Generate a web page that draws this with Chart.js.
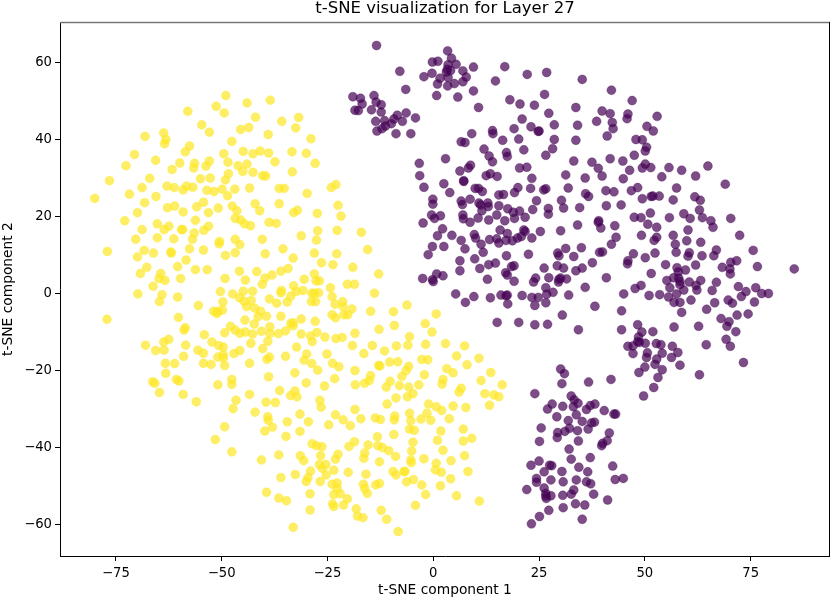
<!DOCTYPE html>
<html>
<head>
<meta charset="utf-8">
<title>t-SNE visualization for Layer 27</title>
<script src="https://cdn.jsdelivr.net/npm/chart.js@4"></script>
<style>
  html, body { margin: 0; padding: 0; background: #fff; }
  canvas { display: block; }
</style>
</head>
<body>
<canvas id="chart" width="830" height="600"></canvas>
<script>
// ================= DATA =================
const xTickValues = [-75, -50, -25, 0, 25, 50, 75];
const yTickValues = [-60, -40, -20, 0, 20, 40, 60];

// class 1 (yellow), [component 1, component 2]
const yellowPoints = [
[-49.0,51.5],[-51.3,48.7],[-49.4,47.0],[-44.0,49.6],[-58.0,47.4],[-54.7,43.9],[-52.9,42.0],[-45.5,42.7],[-43.6,43.2],[-68.1,40.9],
[-63.7,41.8],[-63.2,40.1],[-63.5,39.0],[-47.6,39.6],[-57.6,38.4],[-58.6,36.9],[-70.6,36.2],[-65.6,34.7],[-72.6,33.3],[-59.9,34.0],
[-56.4,33.9],[-56.6,32.7],[-52.9,34.5],[-53.7,33.2],[-61.7,32.3],[-49.5,36.4],[-44.9,37.0],[-48.5,34.2],[-46.1,33.3],[-44.0,33.7],
[-45.0,31.8],[-48.4,31.2],[-49.1,29.6],[-55.0,29.9],[-52.7,30.1],[-67.0,30.0],[-76.5,29.4],[-80.0,24.8],[-71.8,25.9],[-68.8,27.6],
[-65.5,25.3],[-62.9,28.0],[-61.2,27.6],[-59.1,27.0],[-58.3,28.0],[-56.8,27.7],[-53.5,26.9],[-51.8,26.6],[-49.9,27.2],[-46.9,27.2],
[-48.6,25.5],[-43.4,27.5],[-68.2,23.7],[-69.9,21.1],[-72.9,19.0],[-62.8,22.4],[-61.1,22.8],[-59.1,21.3],[-55.9,22.6],[-54.3,23.8],
[-50.8,22.3],[-53.1,21.1],[-47.5,22.8],[-46.4,21.6],[-46.8,19.6],[-45.5,19.2],[-44.6,18.2],[-43.2,17.7],[-56.2,19.1],[-65.2,18.2],
[-62.5,17.6],[-63.6,16.7],[-68.8,16.7],[-59.5,16.7],[-59.2,16.7],[-53.1,17.6],[-54.2,16.5],[-56.5,15.8],[-70.3,14.2],[-65.2,14.6],
[-61.3,14.3],[-56.9,14.2],[-50.5,13.6],[-46.8,14.2],
[-38.5,50.3],[-42.0,45.9],[-35.8,44.8],[-31.8,45.8],[-32.5,43.1],[-39.0,41.4],[-28.9,40.3],[-42.6,36.4],[-40.9,37.1],[-38.9,36.6],
[-33.4,36.9],[-30.0,36.5],[-27.9,33.9],[-37.4,34.3],[-42.6,31.6],[-40.3,30.7],[-39.6,30.6],[-33.3,31.7],[-36.4,27.4],[-35.2,27.4],
[-29.8,26.1],[-24.1,27.6],[-23.0,28.4],[-42.1,23.4],[-41.0,21.6],[-36.4,23.4],[-32.1,21.7],[-33.0,21.1],[-27.4,20.9],[-22.5,23.0],
[-21.8,20.2],[-38.8,18.6],[-37.1,18.3],[-27.3,16.4],[-22.7,16.5],[-17.0,16.0],[-31.2,15.1],[-40.4,14.2],[-27.6,14.0],
[-77.0,11.0],[-68.3,11.3],[-69.9,9.6],[-66.1,10.6],[-62.0,10.9],[-61.9,10.6],[-57.6,11.7],[-54.3,11.4],[-50.6,13.0],[-49.1,10.0],
[-46.8,10.7],[-45.7,12.8],[-39.7,10.4],[-35.5,11.7],[-67.7,6.9],[-69.2,5.3],[-60.4,7.1],[-58.4,8.8],[-56.2,6.3],[-53.4,6.3],
[-45.8,5.9],[-41.7,5.8],[-38.1,4.9],[-39.8,4.1],[-36.0,5.9],[-34.3,6.6],[-64.4,5.3],[-64.8,4.0],[-63.4,3.5],[-59.7,4.0],
[-49.2,4.0],[-44.4,3.6],[-40.4,2.5],[-66.2,2.0],[-69.8,0.0],[-64.1,-0.2],[-64.7,-2.0],[-60.4,-0.8],[-50.3,0.6],[-47.4,0.0],
[-44.9,0.7],[-42.7,0.7],[-35.9,0.9],[-36.0,0.3],[-45.8,-1.0],[-44.7,-1.9],[-43.0,-1.7],[-49.7,-2.1],[-38.7,-1.3],[-37.0,-2.4],
[-34.5,-2.1],[-33.7,-0.6],[-55.5,-3.0],[-51.9,-4.5],[-50.9,-4.5],[-51.1,-5.1],[-49.8,-4.2],[-44.1,-3.3],[-42.2,-3.7],[-40.8,-4.5],
[-41.4,-5.9],[-39.4,-5.8],[-36.0,-5.8],[-44.5,-6.8],[-42.3,-7.8],[-60.2,-6.1],[-77.1,-6.6],[-58.6,-8.8],[-58.9,-9.4],[-47.9,-8.4],
[-46.8,-9.4],[-49.3,-10.1],[-45.7,-10.2],[-44.4,-9.9],[-42.7,-10.4],[-40.6,-9.7],[-38.6,-8.5],[-38.6,-10.3],[-36.6,-10.3],[-34.9,-9.6],
[-33.7,-7.7],[-54.1,-10.6],[-62.5,-11.8],[-63.7,-12.5],[-68.0,-13.3],[-65.6,-14.7],[-63.6,-14.6],[-58.5,-13.3],[-52.3,-12.5],[-50.7,-13.4],
[-49.6,-13.8],[-55.6,-14.6],[-54.3,-15.4],[-43.1,-12.8],[-39.1,-12.3],[-40.3,-14.2],[-45.7,-14.7],[-47.1,-15.5],[-59.0,-16.2],[-50.9,-16.4],
[-49.6,-15.8],[-49.6,-16.6],[-63.3,-18.0],[-61.1,-18.1],[-54.3,-18.0],[-52.5,-18.3],[-49.3,-18.6],[-43.4,-18.0],[-38.7,-16.4],[-39.3,-17.0],
[-34.9,-16.2],[-63.2,-20.6],[-66.3,-22.8],[-65.8,-23.2],[-60.7,-22.2],[-60.1,-22.6],[-50.9,-23.6],[-47.6,-22.2],[-47.6,-23.5],[-38.9,-21.5],
[-64.7,-25.6],[-59.1,-26.1],[-43.4,-26.1],[-36.3,-25.1],[-33.7,-26.4],[-56.0,-28.0],[-46.6,-27.6],[-39.5,-28.1],[-37.3,-28.2],
[-15.5,11.5],[-28.1,10.6],[-22.8,10.4],[-33.1,9.3],[-26.4,8.1],[-23.7,7.6],[-19.0,6.9],[-28.1,5.2],[-12.9,5.2],[-30.5,3.8],
[-27.7,3.4],[-26.9,3.4],[-20.3,2.5],[-18.6,2.5],[-24.3,1.6],[-33.0,2.1],[-32.4,0.6],[-30.8,0.9],[-28.7,0.2],[-28.1,0.2],
[-27.1,0.3],[-13.9,0.2],[-23.9,-0.7],[-28.8,-2.0],[-27.8,-2.0],[-23.2,-2.7],[-21.4,-2.0],[-21.3,-3.3],[-19.2,-3.9],[-21.1,-5.4],
[-20.2,-5.4],[-23.9,-5.4],[-23.1,-6.2],[-14.8,-4.5],[-9.4,-4.6],[-6.2,-2.9],[0.7,-5.2],[-31.2,-6.5],[-33.1,-7.5],[-33.1,-8.3],
[-27.9,-7.1],[-1.9,-7.7],[-9.2,-8.2],[-12.8,-9.2],[-18.5,-10.2],[-0.3,-9.9],[-31.2,-10.4],[-27.5,-10.0],[-29.0,-10.9],[-28.6,-12.4],
[-25.6,-11.2],[-23.0,-11.6],[-21.5,-11.3],[-5.6,-11.1],[-6.0,-13.3],[-1.8,-13.1],[2.9,-12.9],[7.4,-13.5],[-32.3,-13.8],[-19.1,-13.4],
[-14.4,-13.4],[-8.7,-13.5],[-11.5,-14.8],[-16.4,-15.5],[-25.1,-15.6],[-29.9,-15.6],[-30.5,-17.2],[5.5,-16.1],[10.8,-16.7],[-28.7,-18.1],
[-23.8,-18.0],[-22.3,-18.9],[-12.9,-18.6],[-12.6,-18.7],[-10.3,-17.7],[-8.4,-17.6],[-5.8,-18.8],[-6.4,-19.9],[-2.7,-17.0],[-1.3,-17.1],
[3.2,-19.4],[8.0,-18.4],[4.7,-20.5],[13.6,-20.4],[-27.3,-19.8],[-32.7,-20.5],[-18.5,-19.9],[-2.1,-21.0],[-14.8,-21.2],[-7.4,-21.4],
[-23.3,-22.0],[11.3,-22.5],[2.3,-22.2],[2.1,-23.4],[-10.2,-22.7],[-15.1,-22.5],[-16.2,-23.2],[-18.4,-23.6],[-30.0,-23.1],[-25.7,-23.9],
[-8.0,-23.8],[-11.1,-24.2],[-5.8,-24.2],[-3.4,-23.6],[16.3,-23.6],[6.6,-24.5],[6.1,-25.5],[-32.7,-25.2],[-4.8,-25.9],[-6.1,-26.7],
[-8.8,-27.0],[-32.2,-26.7],[12.2,-25.9],[14.3,-26.2],[15.5,-26.7],[-26.8,-27.6],
[-26.5,-29.4],[-47.3,-29.8],[-42.1,-30.7],[-39.1,-31.9],[-39.0,-32.8],[-31.5,-31.2],[-34.5,-33.2],[-29.5,-33.2],[-38.0,-34.6],[-39.8,-35.6],
[-49.3,-34.5],[-51.5,-37.8],[-47.6,-41.0],[-34.8,-37.0],[-31.5,-35.7],[-24.7,-34.0],[-23.1,-31.4],[-21.3,-32.7],[-19.6,-34.2],[-18.5,-30.0],
[-17.1,-32.4],[-13.7,-32.2],[-12.5,-32.6],[-10.9,-28.6],[-9.1,-31.7],[-9.2,-32.7],[-5.6,-31.0],[-5.3,-32.9],[-1.5,-31.0],[-1.1,-28.6],
[0.7,-29.3],[2.0,-30.3],[4.7,-29.1],[7.7,-29.5],[13.3,-28.9],[-2.9,-32.5],[-0.6,-32.8],[3.8,-32.4],[-5.6,-35.1],[-4.5,-35.4],
[1.8,-35.6],[7.1,-35.1],[-9.3,-36.5],[-13.2,-37.1],[1.0,-38.0],[7.1,-38.2],[9.1,-37.5],[-4.8,-38.5],[-28.6,-38.9],[-27.6,-39.4],
[-26.3,-39.7],[-19.9,-39.6],[-18.6,-38.4],[-15.4,-39.2],[-13.1,-39.4],[-12.0,-39.9],[-10.5,-40.7],[-5.1,-40.8],[2.3,-40.6],[-16.2,-41.3],
[-16.4,-42.7],[-22.5,-41.6],[-23.1,-42.9],[-26.6,-42.0],[-31.4,-42.0],[-30.6,-43.3],[-36.5,-41.8],[-40.6,-43.1],[-8.9,-42.2],[-2.2,-42.8],
[7.4,-42.0],[4.2,-43.3],[-5.3,-43.1],[-5.2,-43.8],[-12.7,-43.6],[0.7,-44.0],[-25.4,-44.3],[-26.9,-44.3],[-26.2,-45.3],[-23.5,-45.8],
[-25.3,-47.0],[-29.0,-46.0],[-20.1,-46.3],[-29.6,-47.7],[-30.0,-48.7],[-32.6,-46.9],[-36.0,-47.7],[-26.7,-48.7],[-23.9,-49.4],[-22.7,-49.1],
[-15.9,-46.8],[-9.5,-46.1],[-8.8,-47.0],[-6.9,-46.1],[-6.7,-46.1],[0.5,-45.7],[1.9,-46.3],[8.2,-46.1],[4.1,-48.0],[-4.7,-48.2],
[-6.3,-48.8],[-2.7,-49.6],[1.7,-49.8],[-16.5,-49.4],[-12.7,-49.2],[-13.6,-49.6],[-22.7,-50.5],[-16.2,-50.5],[-15.6,-51.8],[-39.4,-51.5],
[-29.1,-51.9],[-23.5,-52.1],[-22.0,-51.9],[-1.8,-52.1],[5.5,-52.4],[10.9,-53.8],[-36.5,-53.0],[-34.7,-53.7],[-20.3,-53.2],[-23.8,-54.5],
[-23.5,-55.2],[-21.2,-54.8],[-4.2,-54.9],[-29.1,-56.1],[-18.2,-55.8],[-12.3,-56.2],[-17.9,-57.7],[-16.6,-58.1],[-11.0,-58.5],[-33.1,-60.6],
[-8.3,-61.7]
];

// class 0 (purple), [component 1, component 2]
const purplePoints = [
[-13.4,64.5],[3.4,63.1],[-0.2,60.2],[1.1,60.4],[4.3,61.2],[5.4,59.6],[3.5,59.5],[-7.9,57.8],[3.3,58.3],[3.1,57.6],
[4.1,58.0],[9.5,58.9],[16.9,59.0],[22.2,57.0],[-0.3,57.3],[-2.2,56.4],[1.6,56.0],[3.5,56.2],[7.0,57.9],[7.8,56.3],
[7.0,55.1],[5.0,54.6],[3.4,54.0],[1.0,54.5],[14.7,55.3],[-6.5,53.1],[9.5,52.7],[0.8,51.5],[5.8,51.1],[-19.0,51.2],
[-17.2,50.8],[-14.0,51.5],[-16.8,49.3],[-13.5,49.8],[-12.3,49.1],[-18.5,47.7],[-17.7,47.6],[-14.6,47.8],[-12.3,47.2],[-6.4,47.0],
[-4.2,45.7],[-8.5,46.4],[-9.3,45.4],[-7.3,44.8],[-9.9,44.2],[-13.6,44.8],[-11.5,45.0],[-11.3,43.6],[-12.1,42.9],[-13.3,42.3],
[-8.8,41.6],[-5.3,41.6],[18.1,50.4],[20.5,49.3],[23.9,49.0],[10.7,48.4],[21.0,45.4],[19.1,42.9],[23.1,43.4],[24.8,42.2],
[9.1,41.6],[14.0,42.4],[14.1,41.6],[16.4,39.9],[20.2,40.2],[6.6,39.5],[7.5,39.3],[12.0,37.6],[21.4,37.4],[13.2,35.8],
[17.3,36.7],[17.5,35.7],[14.0,34.3],[2.9,35.1],[-3.3,33.9],[8.8,33.4],[8.3,32.7],[6.3,31.9],[20.4,32.7],[22.1,32.9],
[-3.2,30.7],[13.5,31.2],[12.5,30.7],[15.1,30.5],[23.3,30.0],[7.2,29.4],
[26.8,57.5],[35.2,55.7],[42.1,52.9],[47.0,50.2],[26.3,51.8],[33.7,48.4],[27.3,46.9],[39.9,47.5],[41.8,46.8],[46.0,46.7],
[45.8,45.5],[52.9,46.1],[38.6,44.8],[42.3,44.5],[42.5,42.9],[28.6,43.9],[34.1,43.8],[50.5,43.5],[52.0,42.3],[25.0,42.3],
[41.1,41.0],[28.6,40.1],[33.7,39.9],[47.9,40.1],[49.4,40.0],[50.4,38.1],[50.1,37.1],[28.2,37.7],[26.6,36.0],[47.5,36.0],
[41.8,35.1],[33.2,34.5],[37.5,34.2],[44.8,34.5],[39.0,32.6],[50.1,33.7],[49.4,32.7],[51.4,32.8],[46.4,32.1],[55.7,32.8],
[58.7,32.1],[64.9,33.2],[31.3,30.9],[39.9,30.6],[35.9,30.1],[44.9,29.9],[54.0,30.4],[62.0,30.6],[69.0,28.5],[31.9,27.5],
[26.1,27.0],[26.6,27.3],[23.0,27.4],[57.5,27.5],[48.3,27.6],[46.8,26.8],[40.8,26.8],[42.7,26.5],[36.0,26.0],[36.7,25.3],
[51.5,25.3],[51.9,25.4],[49.4,24.7],[53.4,25.4],[56.7,24.4],[61.8,25.2],[63.1,24.3],[24.4,24.2],[30.3,24.3],[27.2,22.2],
[27.2,20.7],[23.5,21.9],[30.8,22.3],[34.6,22.4],[40.9,22.9],[44.4,23.1],[62.9,21.8],[51.3,21.0],[47.5,19.9],[49.1,19.8],
[55.8,19.8],[59.2,20.8],[60.7,19.6],[63.6,19.8],[39.1,19.0],[65.6,19.0],[70.3,19.6],
[-2.2,27.7],[2.5,28.6],[3.9,26.3],[7.2,29.2],[9.9,27.4],[10.7,27.4],[11.6,26.6],[15.5,25.7],[16.6,25.8],[19.2,26.3],
[20.0,27.6],[-0.1,24.6],[-0.1,23.3],[6.6,24.1],[6.9,23.2],[8.7,24.6],[10.8,23.6],[11.2,23.1],[12.9,23.6],[13.0,22.7],
[11.5,21.6],[15.5,22.9],[17.6,22.1],[18.9,21.2],[20.4,21.5],[15.0,20.5],[-0.4,20.5],[0.3,19.6],[1.7,20.3],[-2.4,18.4],
[7.0,20.5],[7.1,19.5],[8.7,18.6],[10.6,19.7],[13.1,19.2],[16.9,19.0],[19.2,19.6],[21.7,19.9],[34.1,17.9],[39.0,18.6],
[39.6,17.1],[2.2,16.9],[1.0,15.1],[4.4,15.2],[6.6,13.9],[9.7,15.4],[10.0,14.5],[11.3,12.9],[15.8,16.6],[17.5,15.7],
[21.4,16.6],[21.7,16.2],[25.3,16.2],[30.1,16.4],[13.3,14.1],[15.0,14.3],[15.5,13.2],[17.2,13.9],[18.7,13.8],[19.9,14.5],
[20.8,14.9],[23.3,14.5],[-0.2,12.3],[2.5,12.3],[7.5,11.7],[-1.2,10.2],[11.8,10.8],[9.8,9.1],[6.3,8.6],[17.3,9.9],
[22.5,10.3],[29.4,10.6],[29.7,9.9],[31.3,11.8],[35.0,12.0],[33.2,9.7],[39.3,10.8],[37.6,8.1],[35.2,6.7],[33.7,6.0],
[29.3,7.3],[30.8,6.7],[26.2,6.7],[14.7,8.0],[13.1,7.6],[11.0,6.6],[6.3,6.0],[18.5,7.1],[19.1,7.3],[17.1,5.5],
[17.5,4.9],[19.1,3.3],[12.8,3.8],[0.8,5.2],[2.3,4.7],[-2.5,4.0],[-0.2,3.7],[0.0,3.2],[24.2,4.1],[23.7,3.1],
[27.3,4.2],[31.5,3.9],[30.1,4.1],[29.6,3.1],[29.7,3.8],[35.9,1.7],[26.6,1.6],[28.3,0.4],[26.8,-0.1],[5.3,0.0],
[9.6,-0.7],[7.6,-2.2],[13.5,-1.0],[16.0,-0.3],[17.5,-0.3],[17.2,-0.5],[17.6,-2.6],[21.0,-0.4],[23.3,-0.9],[24.8,-0.9],
[32.0,-0.3],[24.0,-3.0],[26.6,-2.3],[38.2,-3.2],[30.5,-5.5],[15.1,-7.4],[20.2,-7.4],[24.0,-8.0],[27.0,-7.9],[34.3,-9.3],
[66.1,17.3],[42.9,17.7],[50.7,18.1],[52.8,17.3],[60.2,16.6],[72.4,15.2],[42.1,12.9],[43.2,14.7],[49.2,15.2],[52.8,14.7],
[52.2,13.9],[56.7,15.2],[59.9,13.8],[63.2,13.4],[57.2,12.9],[57.4,10.8],[40.0,10.9],[47.3,10.4],[52.4,10.6],[60.5,10.7],
[60.2,9.8],[63.5,9.9],[66.3,9.9],[66.9,11.4],[75.6,11.3],[46.0,8.6],[45.9,7.8],[50.1,9.4],[54.9,7.6],[57.6,6.8],
[62.0,7.5],[59.6,6.2],[57.9,5.7],[68.3,6.9],[70.3,8.2],[71.7,8.6],[70.1,6.5],[70.2,5.2],[76.6,7.1],[85.3,6.5],
[51.5,5.3],[40.9,4.2],[56.8,4.2],[58.0,4.1],[58.3,3.2],[55.2,3.5],[60.5,3.1],[63.2,3.5],[62.1,2.2],[62.3,1.0],
[66.9,3.0],[65.9,0.9],[49.1,2.2],[47.7,1.4],[45.0,0.0],[51.0,-0.4],[53.5,-0.2],[55.9,1.6],[58.3,2.4],[59.2,1.0],
[57.5,0.0],[55.6,-0.8],[56.9,-2.2],[58.3,-2.2],[60.9,-1.6],[58.7,-4.8],[66.5,-2.3],[64.6,-4.0],[69.7,-1.6],[70.7,-2.4],
[72.1,1.9],[73.9,0.6],[72.8,-0.7],[76.2,1.6],[77.6,0.1],[79.2,0.1],[75.9,-2.1],[44.5,-4.4],[71.8,-5.5],[74.4,-5.2],
[68.0,-6.4],[69.9,-7.2],[69.4,-8.4],[71.5,-9.8],[48.3,-8.0],[44.5,-9.3],[49.3,-9.9],[51.9,-9.8],[56.9,-8.6],[62.7,-8.4],
[69.2,-11.8],[70.2,-13.6],[64.5,-13.2],[48.5,-11.2],[48.3,-12.4],[48.7,-12.6],[50.1,-12.8],[46.0,-13.6],[47.2,-13.5],[47.2,-15.5],
[52.7,-12.9],[53.8,-13.2],[56.5,-13.6],[57.8,-15.2],[56.3,-16.5],[54.1,-15.4],[50.6,-15.3],[50.4,-16.5],[52.8,-16.9],[52.4,-18.3],
[50.0,-19.0],[48.6,-20.4],[54.1,-19.7],[58.3,-18.5],[73.3,-17.8],[53.1,-21.7],[62.9,-21.0],[52.1,-24.3],[42.0,-22.2],[49.7,-26.5],
[30.1,-19.5],[31.0,-20.7],[30.4,-23.3],[36.7,-22.9],[24.0,-25.9],[32.6,-26.5],[33.3,-27.5],[34.2,-28.4],[33.1,-29.3],[28.1,-28.6],
[27.0,-29.9],[30.6,-29.2],[38.2,-28.6],[37.1,-29.0],[36.2,-30.0],[40.4,-30.3],[42.7,-31.2],[43.1,-31.2],[33.8,-31.4],[29.2,-31.9],
[31.9,-32.9],[35.2,-33.1],[37.4,-33.5],[38.1,-33.3],[36.6,-35.1],[25.5,-34.8],[32.2,-34.9],[31.1,-35.7],[34.1,-35.5],[29.4,-36.0],
[29.3,-37.3],[41.6,-36.1],[41.1,-38.1],[40.0,-38.8],[39.8,-39.4],[34.3,-38.2],[25.1,-38.3],[32.1,-40.3],[37.1,-42.5],[32.6,-42.9],
[25.0,-43.4],[23.1,-44.5],[27.5,-44.5],[28.0,-44.6],[34.4,-45.0],[42.4,-44.7],[30.4,-46.1],[26.2,-46.2],[36.5,-46.2],[24.4,-47.9],
[24.4,-48.9],[27.8,-48.3],[30.7,-48.8],[33.8,-48.3],[36.2,-48.8],[37.2,-49.3],[43.0,-48.2],[44.9,-47.9],[22.1,-50.8],[26.2,-50.4],
[26.6,-51.8],[26.6,-52.5],[27.8,-52.4],[26.7,-53.1],[30.6,-52.3],[33.2,-50.9],[32.6,-52.0],[37.9,-52.0],[41.2,-53.5],[33.6,-54.5],
[35.8,-54.8],[30.7,-55.5],[27.3,-56.2],[25.1,-57.8],[35.2,-58.5],[23.2,-59.7]
];

// ================= CHART =================
const tickFont = { family: "'DejaVu Sans'", size: 13.2 };
const labelFont = { family: "'DejaVu Sans'", size: 13.8 };

function minusLabel(v) {
    return String(v).replace("-", "\u2212");
}

// the frame on top and right, Chart.js only draws left and bottom here
const framePlugin = {
    id: "frame",
    afterDatasetsDraw(chart) {
        const { ctx, chartArea: a } = chart;
        ctx.save();
        ctx.strokeStyle = "#777";
        ctx.lineWidth = 1.5;
        ctx.beginPath();
        ctx.moveTo(a.left, a.top + 0.5);
        ctx.lineTo(a.right, a.top + 0.5);
        ctx.stroke();
        ctx.strokeStyle = "#000";
        ctx.lineWidth = 1;
        ctx.beginPath();
        ctx.moveTo(a.right - 0.5, a.top);
        ctx.lineTo(a.right - 0.5, a.bottom);
        ctx.stroke();
        ctx.restore();
    }
};

new Chart(document.getElementById("chart"), {
    type: "scatter",
    data: {
        datasets: [
            {
                label: "class 0",
                data: purplePoints.map(p => ({ x: p[0], y: p[1] })),
                backgroundColor: "rgba(68,1,84,0.7)",
                pointBorderColor: "rgba(68,1,84,0.3)",
                pointBorderWidth: 1,
                pointRadius: 4.5
            },
            {
                label: "class 1",
                data: yellowPoints.map(p => ({ x: p[0], y: p[1] })),
                backgroundColor: "rgba(253,231,37,0.7)",
                pointBorderColor: "rgba(253,231,37,0.3)",
                pointBorderWidth: 1,
                pointRadius: 4.5
            }
        ]
    },
    options: {
        responsive: false,
        animation: false,
        devicePixelRatio: 1,
        layout: { padding: 0, autoPadding: false },
        plugins: {
            legend: { display: false },
            tooltip: { enabled: false },
            title: {
                display: true,
                fullSize: false,
                text: "t-SNE visualization for Layer 27",
                color: "#000",
                font: { family: "'DejaVu Sans'", size: 16.5, weight: "normal", lineHeight: 1 },
                padding: { top: 0, bottom: 5.5 }
            }
        },
        scales: {
            x: {
                type: "linear",
                min: -88.2,
                max: 93.75,
                afterBuildTicks(scale) { scale.ticks = xTickValues.map(v => ({ value: v })); },
                afterFit(scale) { scale.height = 44; scale.paddingLeft = 0; scale.paddingRight = 0; },
                grid: { drawOnChartArea: false, drawTicks: true, tickLength: 5, color: "#000" },
                border: { color: "#000", width: 1 },
                ticks: { color: "#000", font: tickFont, padding: 5, maxRotation: 0, autoSkip: false, callback: minusLabel },
                title: { display: true, text: "t-SNE component 1", color: "#000", font: labelFont, padding: { top: 3, bottom: 1 } }
            },
            y: {
                type: "linear",
                min: -68.05,
                max: 70.6,
                afterBuildTicks(scale) { scale.ticks = yTickValues.map(v => ({ value: v })); },
                afterFit(scale) { scale.width = 60; scale.paddingTop = 0; scale.paddingBottom = 0; },
                grid: { drawOnChartArea: false, drawTicks: true, tickLength: 5, color: "#000" },
                border: { color: "#000", width: 1 },
                ticks: { color: "#000", font: tickFont, padding: 3, autoSkip: false, callback: minusLabel },
                title: { display: true, text: "t-SNE component 2", color: "#000", font: labelFont, padding: { top: 0, bottom: 0 } }
            }
        }
    },
    plugins: [framePlugin]
});
</script>
</body>
</html>
